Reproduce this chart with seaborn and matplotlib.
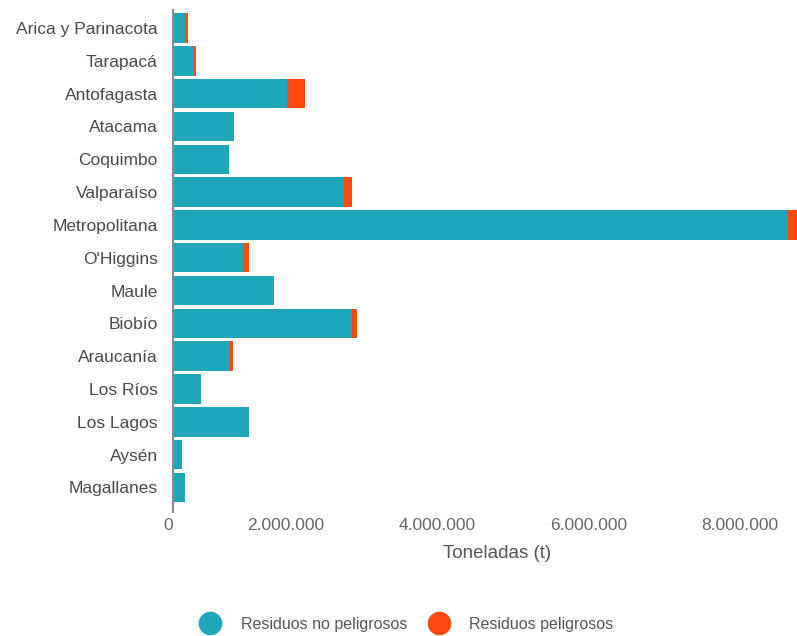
import matplotlib
matplotlib.use("Agg")
import matplotlib.pyplot as plt
from matplotlib.lines import Line2D
from matplotlib.ticker import FuncFormatter
import pandas as pd
import seaborn as sns

# ------------------------------------------------------------
# Data (toneladas)
# ------------------------------------------------------------
regiones = ["Arica y Parinacota", "Tarapacá", "Antofagasta", "Atacama", "Coquimbo",
            "Valparaíso", "Metropolitana", "O'Higgins", "Maule", "Biobío",
            "Araucanía", "Los Ríos", "Los Lagos", "Aysén", "Magallanes"]
no_peligrosos = [160000, 280000, 1510000, 800000, 740000,
                 2260000, 8130000, 920000, 1330000, 2360000,
                 750000, 370000, 1000000, 120000, 160000]
peligrosos = [40000, 30000, 240000, 8000, 6000,
              110000, 120000, 90000, 8000, 70000,
              40000, 5000, 8000, 2000, 3000]
x_ticks = [0, 2000000, 4000000, 6000000, 8000000]

TEAL = "#20a6b9"
ORANGE = "#fe4a0e"
GRAY = "#666666"

df = pd.DataFrame({"region": regiones,
                   "no_peligrosos": no_peligrosos,
                   "peligrosos": peligrosos})
df["total"] = df["no_peligrosos"] + df["peligrosos"]

sns.set_style("white")
plt.rcParams["font.family"] = ["Liberation Sans", "DejaVu Sans"]

fig = plt.figure(figsize=(7.97, 6.36), dpi=100)
ax = fig.add_axes([173 / 797, 1 - 512 / 636, 1 - 173 / 797, (512 - 10) / 636])

# stacked bars: total in orange, non-hazardous on top in teal
sns.barplot(data=df, y="region", x="total", color=ORANGE, orient="h",
            width=0.9, saturation=1, linewidth=0, ax=ax)
sns.barplot(data=df, y="region", x="no_peligrosos", color=TEAL, orient="h",
            width=0.9, saturation=1, linewidth=0, ax=ax)

ax.set_xlim(0, df["total"].max())
ax.set_ylim(len(regiones) - 0.5 + 0.25, -0.5 - 0.05)
ax.set_xticks(x_ticks)
ax.xaxis.set_major_formatter(FuncFormatter(lambda v, p: f"{int(v):,}".replace(",", ".")))
for lbl in ax.get_xticklabels():
    lbl.set_horizontalalignment("right")

ax.tick_params(axis="x", length=0, pad=4, labelsize=12.5, labelcolor=GRAY)
ax.tick_params(axis="y", length=0, pad=11, labelsize=12.5, labelcolor="#4a4a4a")
ax.set_ylabel("")
ax.set_xlabel("Toneladas (t)", fontsize=13.5, color="#555555", labelpad=6)
ax.xaxis.set_label_coords(0.52, -0.065)

for side in ["top", "right", "bottom"]:
    ax.spines[side].set_visible(False)
ax.spines["left"].set_color("#888888")
ax.spines["left"].set_linewidth(1.5)

handles = [
    Line2D([0], [0], marker="o", linestyle="", markersize=16,
           markerfacecolor=TEAL, markeredgecolor=TEAL, label="Residuos no peligrosos"),
    Line2D([0], [0], marker="o", linestyle="", markersize=16,
           markerfacecolor=ORANGE, markeredgecolor=ORANGE, label="Residuos peligrosos"),
]
leg = fig.legend(handles=handles, loc="center", bbox_to_anchor=(404 / 797, 1 - 624 / 636),
                 ncol=2, frameon=False, fontsize=11.5, handletextpad=0.9,
                 columnspacing=1.0)
for t in leg.get_texts():
    t.set_color("#555555")

fig.savefig("out.png", dpi=100)
